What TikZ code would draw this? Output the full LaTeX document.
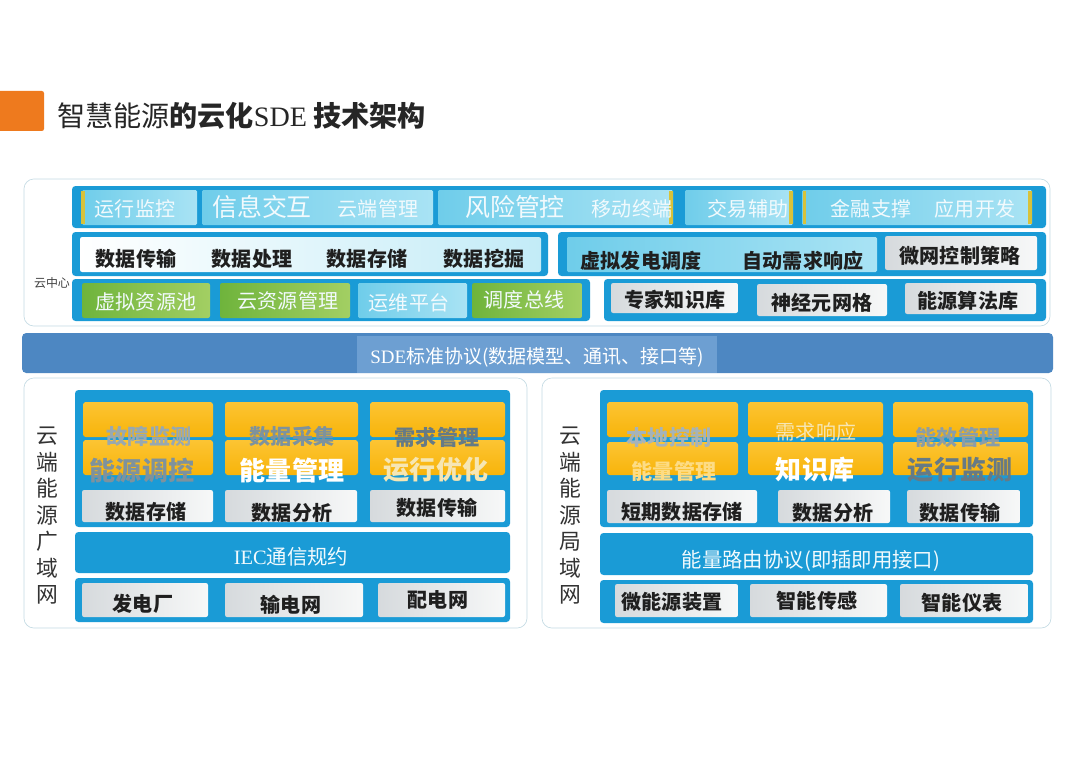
\documentclass[tikz,border=0pt]{standalone}
\usepackage{fontspec}
\setmainfont{Noto Sans CJK SC}
\newfontfamily\serifen{Liberation Serif}
\definecolor{bandblue}{HTML}{1A9BD6}
\definecolor{cyanA}{HTML}{6FCDEA}
\definecolor{cyanB}{HTML}{A9E3F4}
\definecolor{whiteA}{HTML}{D6DADD}
\definecolor{whiteB}{HTML}{F7F8F8}
\definecolor{orangeA}{HTML}{F8B40A}
\definecolor{orangeB}{HTML}{FCC433}
\definecolor{greenA}{HTML}{6FB43C}
\definecolor{greenB}{HTML}{A3CF63}
\definecolor{sdeblue}{HTML}{4D87C2}
\definecolor{sdelight}{HTML}{6D9FD2}
\definecolor{outer}{HTML}{C3DAE3}
\definecolor{accent}{HTML}{D8C23A}
\definecolor{titleorange}{HTML}{EE7A1E}
\definecolor{lighttxt}{HTML}{F2FAFD}
\definecolor{greytxt}{HTML}{7E929D}
\definecolor{greytxtB}{HTML}{667A85}
\definecolor{creamtxt}{HTML}{F6E6B4}
\begin{document}
\begin{tikzpicture}[x=0.5mm,y=-0.5mm,
  outerbox/.style={draw=outer,line width=0.9pt,fill=white,rounded corners=14pt},
  band/.style={fill=bandblue,rounded corners=5pt},
  cyanseg/.style={left color=cyanA,right color=cyanB,rounded corners=2pt},
  wseg/.style={left color=whiteA,right color=whiteB,rounded corners=3pt},
  lseg/.style={left color=white,right color=cyanB!70,rounded corners=3pt},
  oseg/.style={top color=orangeB,bottom color=orangeA,rounded corners=4pt},
  gseg/.style={left color=greenA,right color=greenB,rounded corners=3pt},
  acc/.style={fill=accent},
  t/.style={inner sep=0pt,anchor=center},
  small/.style={t,font=\fontsize{28.5}{30}\selectfont,text=lighttxt},
  large/.style={t,font=\fontsize{35.5}{37}\selectfont,text=lighttxt},
  bk/.style={t,font=\bfseries\fontsize{28.5}{30}\selectfont,text=black!88},
  otx/.style={t,font=\bfseries\fontsize{30}{32}\selectfont},
  obig/.style={t,font=\bfseries\fontsize{37}{39}\selectfont},
  vert/.style={t,font=\fontsize{31}{37.7}\selectfont,align=center,text=black!80}]
\useasboundingbox (0,0) rectangle (1080,764);

% ---- title
\fill[titleorange,rounded corners=3pt] (-5,91) rectangle (44,131);
\node[t,anchor=west,font=\fontsize{40}{42}\selectfont,text=black!85] (title) at (57,116)
  {智慧能源{\bfseries 的云化}{\serifen SDE} {\bfseries 技术架构}};

% ---- cloud centre
\path[outerbox] (24,179) rectangle (1050,326);
\node[t,font=\fontsize{17}{18}\selectfont,text=black!75] (yzx) at (52,283) {云中心};

% row 1
\path[band] (72,186) rectangle (1046,228);
\path[cyanseg] (82,190) rectangle (197,225);
\path[cyanseg] (202,190) rectangle (433,225);
\path[cyanseg] (438,190) rectangle (673,225);
\path[cyanseg] (685,190) rectangle (793,225);
\path[cyanseg] (802,190) rectangle (1032,225);
\fill[acc] (81,191) rectangle (85,224);
\fill[acc] (669,191) rectangle (673,224);
\fill[acc] (789,191) rectangle (793,224);
\fill[acc] (803,191) rectangle (806,224);
\fill[acc] (1028,191) rectangle (1032,224);
\node[small] (r1a) at (135,209) {运行监控};
\node[large] (r1b) at (262,207) {信息交互};
\node[small] (r1c) at (378,209) {云端管理};
\node[large] (r1d) at (515,207) {风险管控};
\node[small] (r1e) at (632,209) {移动终端};
\node[small] (r1f) at (748,209) {交易辅助};
\node[small] (r1g) at (871,209) {金融支撑};
\node[small] (r1h) at (975,209) {应用开发};

% row 2
\path[band] (72,232) rectangle (548,276);
\path[lseg] (80,237) rectangle (541,272);
\path[band] (558,232) rectangle (1046,276);
\path[cyanseg] (567,237) rectangle (877,272);
\path[wseg] (885,236) rectangle (1037,270);
\node[bk] (r2a) at (136,259) {数据传输};
\node[bk] (r2b) at (252,259) {数据处理};
\node[bk] (r2c) at (367,259) {数据存储};
\node[bk] (r2d) at (484,259) {数据挖掘};
\node[bk] (r2e) at (641,261) {虚拟发电调度};
\node[bk] (r2f) at (803,261) {自动需求响应};
\node[bk] (r2g) at (960,256) {微网控制策略};

% row 3
\path[band] (72,279) rectangle (590,321);
\path[gseg] (82,283) rectangle (210,318);
\path[gseg] (220,283) rectangle (350,318);
\path[cyanseg] (358,283) rectangle (467,318);
\path[gseg] (472,283) rectangle (582,318);
\path[band] (604,279) rectangle (1046,321);
\path[wseg] (611,283) rectangle (738,313);
\path[wseg] (757,284) rectangle (887,316);
\path[wseg] (905,283) rectangle (1036,314);
\node[small] (r3a) at (146,302) {虚拟资源池};
\node[small] (r3b) at (288,301) {云资源管理};
\node[small] (r3c) at (409,303) {运维平台};
\node[small] (r3d) at (524,300) {调度总线};
\node[bk] (r3e) at (675,300) {专家知识库};
\node[bk] (r3f) at (822,303) {神经元网格};
\node[bk] (r3g) at (968,301) {能源算法库};

% ---- SDE bar
\fill[sdeblue,rounded corners=6pt] (22,333) rectangle (1053,373);
\fill[sdelight] (357,336) rectangle (717,373);
\node[t,font=\fontsize{27}{29}\selectfont,text=white] (sde) at (537,357)
  {{\serifen SDE}标准协议(数据模型、通讯、接口等)};

% ---- left lower block
\path[outerbox] (24,378) rectangle (527,628);
\node[vert] (lv) at (47,516) {云\\端\\能\\源\\广\\域\\网};
\path[band] (75,390) rectangle (510,527);
\path[oseg] (83,402) rectangle (213,437);
\path[oseg] (225,402) rectangle (358,437);
\path[oseg] (370,402) rectangle (505,437);
\path[oseg] (83,440) rectangle (213,475);
\path[oseg] (225,440) rectangle (358,475);
\path[oseg] (370,440) rectangle (505,475);
\node[otx,text=greytxt!80] (la1) at (149,436) {故障监测};
\node[otx,text=greytxt] (la2) at (292,436) {数据采集};
\node[otx,text=greytxtB] (la3) at (437,437) {需求管理};
\node[obig,text=greytxt] (lb1) at (142,471) {能源调控};
\node[obig,text=white] (lb2) at (292,471) {能量管理};
\node[obig,text=creamtxt] (lb3) at (436,470) {运行优化};
\path[wseg] (82,490) rectangle (213,522);
\path[wseg] (225,490) rectangle (357,522);
\path[wseg] (370,490) rectangle (505,522);
\node[bk] (lc1) at (146,512) {数据存储};
\node[bk] (lc2) at (292,513) {数据分析};
\node[bk] (lc3) at (437,508) {数据传输};
\path[band] (75,532) rectangle (510,573);
\node[t,font=\fontsize{29}{31}\selectfont,text=lighttxt] (iec) at (291,557) {{\serifen IEC}通信规约};
\path[band] (75,578) rectangle (510,622);
\path[wseg] (82,583) rectangle (208,617);
\path[wseg] (225,583) rectangle (363,617);
\path[wseg] (378,583) rectangle (505,617);
\node[bk] (ld1) at (143,604) {发电厂};
\node[bk] (ld2) at (291,605) {输电网};
\node[bk] (ld3) at (438,600) {配电网};

% ---- right lower block
\path[outerbox] (542,378) rectangle (1051,628);
\node[vert] (rv) at (570,516) {云\\端\\能\\源\\局\\域\\网};
\path[band] (600,390) rectangle (1033,527);
\path[oseg] (607,402) rectangle (738,437);
\path[oseg] (748,402) rectangle (883,437);
\path[oseg] (893,402) rectangle (1028,437);
\path[oseg] (607,442) rectangle (738,475);
\path[oseg] (748,442) rectangle (883,475);
\path[oseg] (893,442) rectangle (1028,475);
\node[otx,text=greytxt!70] (ra1) at (669,437) {本地控制};
\node[otx,font=\fontsize{28.5}{30}\selectfont,text=creamtxt] (ra2) at (816,432) {需求响应};
\node[otx,text=greytxt!90] (ra3) at (958,437) {能效管理};
\node[otx,text=orangeB!60!white] (rb1) at (674,471) {能量管理};
\node[obig,text=white] (rb2) at (815,470) {知识库};
\node[obig,text=greytxtB] (rb3) at (960,470) {运行监测};
\path[wseg] (607,490) rectangle (757,523);
\path[wseg] (778,490) rectangle (890,523);
\path[wseg] (907,490) rectangle (1020,523);
\node[bk] (rc1) at (682,512) {短期数据存储};
\node[bk] (rc2) at (833,513) {数据分析};
\node[bk] (rc3) at (960,513) {数据传输};
\path[band] (600,533) rectangle (1033,575);
\node[t,font=\fontsize{29}{31}\selectfont,text=lighttxt] (route) at (811,561) {能量路由协议(即插即用接口)};
\path[band] (600,580) rectangle (1033,623);
\path[wseg] (615,584) rectangle (738,617);
\path[wseg] (750,584) rectangle (887,617);
\path[wseg] (900,584) rectangle (1028,617);
\node[bk] (rd1) at (672,602) {微能源装置};
\node[bk] (rd2) at (817,601) {智能传感};
\node[bk] (rd3) at (962,603) {智能仪表};
\end{tikzpicture}
\end{document}
